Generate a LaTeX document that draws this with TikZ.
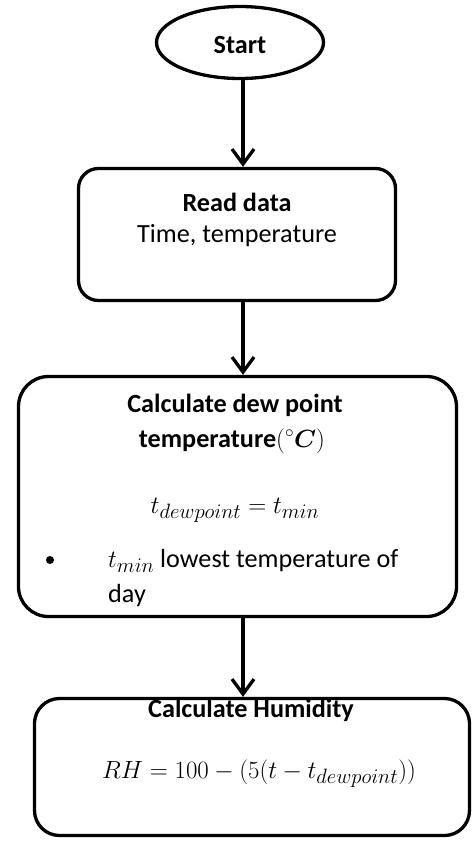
\documentclass[tikz,border=0pt]{standalone}
\usepackage[no-math]{fontspec}
\usepackage{bm}
\setmainfont{Carlito}
\usetikzlibrary{shapes.geometric,arrows.meta}

\tikzset{
  outline/.style={draw=black, line width=3.3pt},
  stepbox/.style={outline, rectangle, inner sep=0pt},
  txt/.style={inner sep=0pt, font=\fontsize{26.2}{31}\selectfont},
  hdr/.style={txt, font=\fontsize{26.2}{31}\selectfont\bfseries},
  eqn/.style={inner sep=0pt, font=\fontsize{30.5}{34}\selectfont},
  flow/.style={line width=3.3pt, -{Straight Barb[length=15pt,width=22pt,line width=3.3pt]}}
}

\begin{document}
\begin{tikzpicture}[x=1pt,y=-1pt]
  \useasboundingbox (0,0) rectangle (472,841);
  \fill[white] (0,0) rectangle (472,841);

  % vertical line that the arrows follow
  \coordinate (spine) at (243,0);

  % terminator
  \node[outline, ellipse, inner sep=0pt, minimum width=167pt, minimum height=72pt] (start) at (240,42.5) {};
  \node[hdr] (starttxt) at (240,45) {Start};

  % input step
  \node[stepbox, rounded corners=20pt, minimum width=317pt, minimum height=132pt] (read) at (237,234.5) {};
  \node[hdr, anchor=base] (readA) at (237,211) {Read data};
  \node[txt, anchor=base] (readB) at (237,242) {Time, temperature};

  % dew point step
  \node[stepbox, rounded corners=30pt, minimum width=438pt, minimum height=240pt] (dew) at (237.5,496.5) {};
  \node[hdr, anchor=base] (dewA) at (235,412) {Calculate dew point};
  \node[hdr, anchor=base] (dewB) at (232,447) {temperature$({}^{\circ}\bm{C})$};
  \node[eqn, anchor=base] (dewEq) at (235,513) {$t_{dewpoint}=t_{min}$};
  \fill (50,560) circle (4pt) coordinate (bullet);
  \node[txt, anchor=base west] (dewC) at (108,567) {{\fontsize{28}{31}\selectfont$t_{min}$} lowest temperature of};
  \node[txt, anchor=base west] (dewD) at (108,602) {day};

  % humidity step
  \node[stepbox, rounded corners=25pt, minimum width=435pt, minimum height=137pt] (hum) at (252,767) {};
  \node[hdr, anchor=base] (humA) at (251,717) {Calculate Humidity};
  \node[eqn, anchor=base] (humEq) at (259,778) {$RH=100-(5(t-t_{dewpoint}))$};

  % connectors
  \draw[flow] (start.south -| spine) -- (read.north -| spine);
  \draw[flow] (read.south -| spine) -- (dew.north -| spine);
  \draw[flow] (dew.south -| spine) -- (hum.north -| spine);
\end{tikzpicture}
\end{document}
